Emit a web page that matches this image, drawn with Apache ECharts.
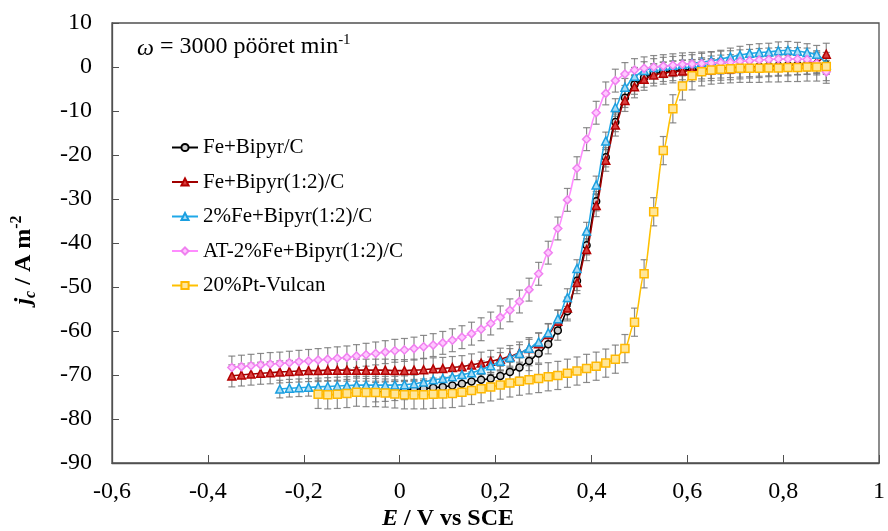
<!DOCTYPE html>
<html>
<head>
<meta charset="utf-8">
<script src="https://cdn.jsdelivr.net/npm/echarts@6/dist/echarts.min.js"></script>
<style>
  html, body { margin: 0; padding: 0; background: #fff; }
  #chart { width: 888px; height: 531px; }
</style>
</head>
<body>
<div id="chart"></div>
<script>
// potentsiaal (V vs SCE), mõõdetud iga 0,02 V järel
const potentials = [
  -0.35, -0.33, -0.31, -0.29, -0.27, -0.25, -0.23, -0.21, -0.19, -0.17,
  -0.15, -0.13, -0.11, -0.09, -0.07, -0.05, -0.03, -0.01, 0.01, 0.03,
  0.05, 0.07, 0.09, 0.11, 0.13, 0.15, 0.17, 0.19, 0.21, 0.23,
  0.25, 0.27, 0.29, 0.31, 0.33, 0.35, 0.37, 0.39, 0.41, 0.43,
  0.45, 0.47, 0.49, 0.51, 0.53, 0.55, 0.57, 0.59, 0.61, 0.63,
  0.65, 0.67, 0.69, 0.71, 0.73, 0.75, 0.77, 0.79, 0.81, 0.83,
  0.85, 0.87, 0.89
];

const seriesNames = [
  "Fe+Bipyr/C",
  "Fe+Bipyr(1:2)/C",
  "2%Fe+Bipyr(1:2)/C",
  "AT-2%Fe+Bipyr(1:2)/C",
  "20%Pt-Vulcan"
];

// Fe+Bipyr/C, algab -0,05 V juures
const feBipyr = [
  -73.9, -73.8, -73.6, -73.4, -73.2, -73.1, -72.9, -72.7, -72.4, -72.0,
  -71.5, -71.1, -70.8, -70.2, -69.3, -68.3, -66.8, -65.1, -63.0, -59.9,
  -55.5, -48.6, -40.5, -30.5, -20.5, -12.5, -7.0, -4.0, -2.4, -1.5,
  -1.1, -0.9, -0.7, -0.6, -0.5, -0.4, -0.3, -0.2, -0.1, 0.0,
  0.1, 0.2, 0.3, 0.4, 0.5, 0.6, 0.7, 0.5
];
// Fe+Bipyr(1:2)/C, algab -0,35 V juures
const feBipyr12 = [
  -70.2, -70.0, -69.8, -69.6, -69.5, -69.3, -69.2, -69.1, -69.0, -69.0,
  -68.9, -68.9, -68.9, -68.9, -68.9, -68.9, -68.9, -69.0, -69.0, -68.9,
  -68.8, -68.6, -68.5, -68.3, -68.1, -67.7, -67.3, -66.9, -66.4, -65.8,
  -65.0, -64.0, -62.9, -60.8, -57.8, -54.8, -49.0, -41.5, -31.5, -21.2,
  -13.2, -7.6, -4.5, -2.8, -1.8, -1.4, -1.1, -0.9, -0.8, -0.7,
  -0.6, -0.5, -0.4, -0.2, 0.0, 0.1, 0.3, 0.4, 0.5, 0.7,
  0.8, 1.2, 2.9
];
// 2%Fe+Bipyr(1:2)/C, algab -0,25 V juures
const fe2Bipyr12 = [
  -73.2, -73.0, -72.9, -72.8, -72.7, -72.6, -72.5, -72.4, -72.3, -72.3,
  -72.3, -72.3, -72.3, -72.2, -72.0, -71.6, -71.1, -70.8, -70.4, -69.9,
  -69.5, -68.8, -67.9, -66.9, -66.0, -65.1, -63.9, -62.5, -60.4, -57.2,
  -52.4, -45.8, -37.3, -26.8, -16.8, -9.2, -4.6, -2.1, -0.8, -0.1,
  0.2, 0.4, 0.6, 0.8, 1.1, 1.4, 1.8, 2.3, 2.7, 3.1,
  3.3, 3.4, 3.7, 3.8, 3.6, 3.3, 2.9, 0.5
];
// AT-2%Fe+Bipyr(1:2)/C, algab -0,35 V juures
const atFe2Bipyr12 = [
  -68.3, -68.1, -67.9, -67.7, -67.5, -67.4, -67.2, -67.0, -66.8, -66.6,
  -66.4, -66.2, -66.0, -65.7, -65.4, -65.1, -64.8, -64.5, -64.3, -64.0,
  -63.6, -63.2, -62.7, -62.1, -61.4, -60.6, -59.6, -58.3, -56.9, -55.3,
  -53.3, -50.6, -47.0, -42.2, -36.7, -30.2, -23.0, -16.4, -10.4, -6.0,
  -3.1, -1.6, -0.7, -0.3, 0.0, 0.2, 0.4, 0.6, 0.7, 0.8,
  0.9, 1.0, 1.1, 1.3, 1.4, 1.6, 1.7, 1.8, 1.8, 1.8,
  1.7, 0.8, -1.1
];
// 20%Pt-Vulcan, algab -0,17 V juures
const ptVulcan = [
  -74.4, -74.5, -74.4, -74.2, -73.9, -74.0, -74.0, -74.1, -74.3, -74.5,
  -74.5, -74.5, -74.4, -74.3, -74.2, -73.9, -73.5, -73.1, -72.7, -72.3,
  -71.8, -71.4, -71.1, -70.8, -70.4, -70.1, -69.6, -69.1, -68.5, -68.0,
  -67.3, -66.4, -64.0, -58.0, -47.0, -32.9, -19.0, -9.5, -4.3, -2.0,
  -1.1, -0.7, -0.5, -0.4, -0.3, -0.3, -0.3, -0.2, -0.2, -0.1,
  -0.1, 0.0, 0.0, 0.1
];

// veapiirid (±), iga seeria kohta
const errorBars = [2.2, 2.5, 2.0, 2.6, 3.2];

const xTicks = ["-0,6", "-0,4", "-0,2", "0", "0,2", "0,4", "0,6", "0,8", "1"];
const yTicks = ["-90", "-80", "-70", "-60", "-50", "-40", "-30", "-20", "-10", "0", "10"];

const serif = "'Liberation Serif', 'DejaVu Serif', serif";

const pairUp = (values) => {
  const start = potentials.length - values.length;
  return values.map((v, i) => [potentials[start + i], v]);
};

const allValues = [feBipyr, feBipyr12, fe2Bipyr12, atFe2Bipyr12, ptVulcan];

const styles = [
  { line: "#000000", symbol: "circle", size: 7, fill: "#d0d0d0", border: "#000000" },
  { line: "#a00000", symbol: "triangle", size: 8, fill: "#d84040", border: "#b40000" },
  { line: "#1fa8e8", symbol: "triangle", size: 8, fill: "#a6dcf6", border: "#1a9fe0" },
  { line: "#ff8cff", symbol: "diamond", size: 8, fill: "#ffc8ff", border: "#f080f0" },
  { line: "#ffc000", symbol: "rect", size: 8, fill: "#ffe699", border: "#ffb800" }
];

const errRender = (params, api) => {
  const x = api.value(0), y = api.value(1), e = api.value(2);
  const hi = api.coord([x, y + e]);
  const lo = api.coord([x, y - e]);
  const st = { stroke: "#777777", lineWidth: 1.2, opacity: 0.85 };
  const cap = 3.5;
  return {
    type: "group",
    children: [
      { type: "line", shape: { x1: hi[0], y1: hi[1], x2: lo[0], y2: lo[1] }, style: st },
      { type: "line", shape: { x1: hi[0] - cap, y1: hi[1], x2: hi[0] + cap, y2: hi[1] }, style: st },
      { type: "line", shape: { x1: lo[0] - cap, y1: lo[1], x2: lo[0] + cap, y2: lo[1] }, style: st }
    ]
  };
};

const series = [];
allValues.forEach((vals, k) => {
  const pts = pairUp(vals);
  series.push({
    type: "custom",
    renderItem: errRender,
    data: pts.map((p) => [p[0], p[1], errorBars[k]]),
    encode: { x: 0, y: 1 },
    z: 2,
    silent: true
  });
});
allValues.forEach((vals, k) => {
  const s = styles[k];
  series.push({
    name: seriesNames[k],
    type: "line",
    data: pairUp(vals),
    smooth: 0.3,
    smoothMonotone: "x",
    symbol: s.symbol,
    symbolSize: s.size,
    showAllSymbol: true,
    lineStyle: { color: s.line, width: 1.6 },
    itemStyle: { color: s.fill, borderColor: s.border, borderWidth: 1.5 },
    z: 3 + k
  });
});

const chart = echarts.init(document.getElementById("chart"));

const option = {
  animation: false,
  backgroundColor: "#ffffff",
  grid: {
    left: 112,
    right: 6,
    top: 23,
    bottom: 68,
    show: true,
    borderColor: "#505050",
    borderWidth: 1.3
  },
  legend: {
    data: seriesNames,
    orient: "vertical",
    left: 166,
    top: 132,
    itemWidth: 26,
    itemHeight: 9,
    itemGap: 13.5,
    textStyle: { fontFamily: serif, fontSize: 21, color: "#000", lineHeight: 21 }
  },
  xAxis: {
    type: "value",
    min: -0.6,
    max: 1,
    interval: 0.2,
    axisLine: { onZero: false, lineStyle: { color: "#505050", width: 1.3 } },
    axisTick: { inside: true, length: 8, lineStyle: { color: "#505050" } },
    splitLine: { show: false },
    axisLabel: {
      margin: 17,
      fontFamily: serif,
      fontSize: 24,
      color: "#000",
      formatter: (v) => xTicks[Math.round((v + 0.6) / 0.2)]
    }
  },
  yAxis: {
    type: "value",
    min: -90,
    max: 10,
    interval: 10,
    axisLine: { show: true, onZero: false, lineStyle: { color: "#505050", width: 1.3 } },
    axisTick: { show: true, inside: true, length: 7, lineStyle: { color: "#505050" } },
    splitLine: { show: false },
    axisLabel: {
      margin: 20,
      fontFamily: serif,
      fontSize: 24,
      color: "#000",
      formatter: (v) => yTicks[Math.round((v + 90) / 10)]
    }
  },
  graphic: [
    {
      type: "text",
      left: 137,
      top: 33,
      style: {
        text: "{i|ω} = 3000 pööret min{sup|-1}",
        fontFamily: serif,
        fontSize: 24,
        fill: "#000",
        rich: {
          i: { fontFamily: serif, fontSize: 24, fontStyle: "italic", lineHeight: 28, verticalAlign: "bottom" },
          sup: { fontFamily: serif, fontSize: 15, lineHeight: 28, verticalAlign: "top" }
        }
      }
    },
    {
      type: "text",
      x: 24,
      y: 260,
      rotation: Math.PI / 2,
      style: {
        text: "{j|j}{c|c} / A m{sup|-2}",
        fontFamily: serif,
        fontSize: 24,
        fontWeight: "bold",
        fill: "#000",
        align: "center",
        verticalAlign: "middle",
        rich: {
          j: { fontFamily: serif, fontSize: 24, fontWeight: "bold", fontStyle: "italic", lineHeight: 30, verticalAlign: "middle" },
          c: { fontFamily: serif, fontSize: 16, fontWeight: "bold", fontStyle: "italic", lineHeight: 30, verticalAlign: "bottom" },
          sup: { fontFamily: serif, fontSize: 16, fontWeight: "bold", lineHeight: 30, verticalAlign: "top" }
        }
      }
    },
    {
      type: "text",
      x: 448,
      y: 519,
      style: {
        text: "{e|E} / V vs SCE",
        fontFamily: serif,
        fontSize: 24,
        fontWeight: "bold",
        fill: "#000",
        align: "center",
        verticalAlign: "middle",
        rich: {
          e: { fontFamily: serif, fontSize: 24, fontWeight: "bold", fontStyle: "italic" }
        }
      }
    }
  ],
  series: series
};

chart.setOption(option);
</script>
</body>
</html>
